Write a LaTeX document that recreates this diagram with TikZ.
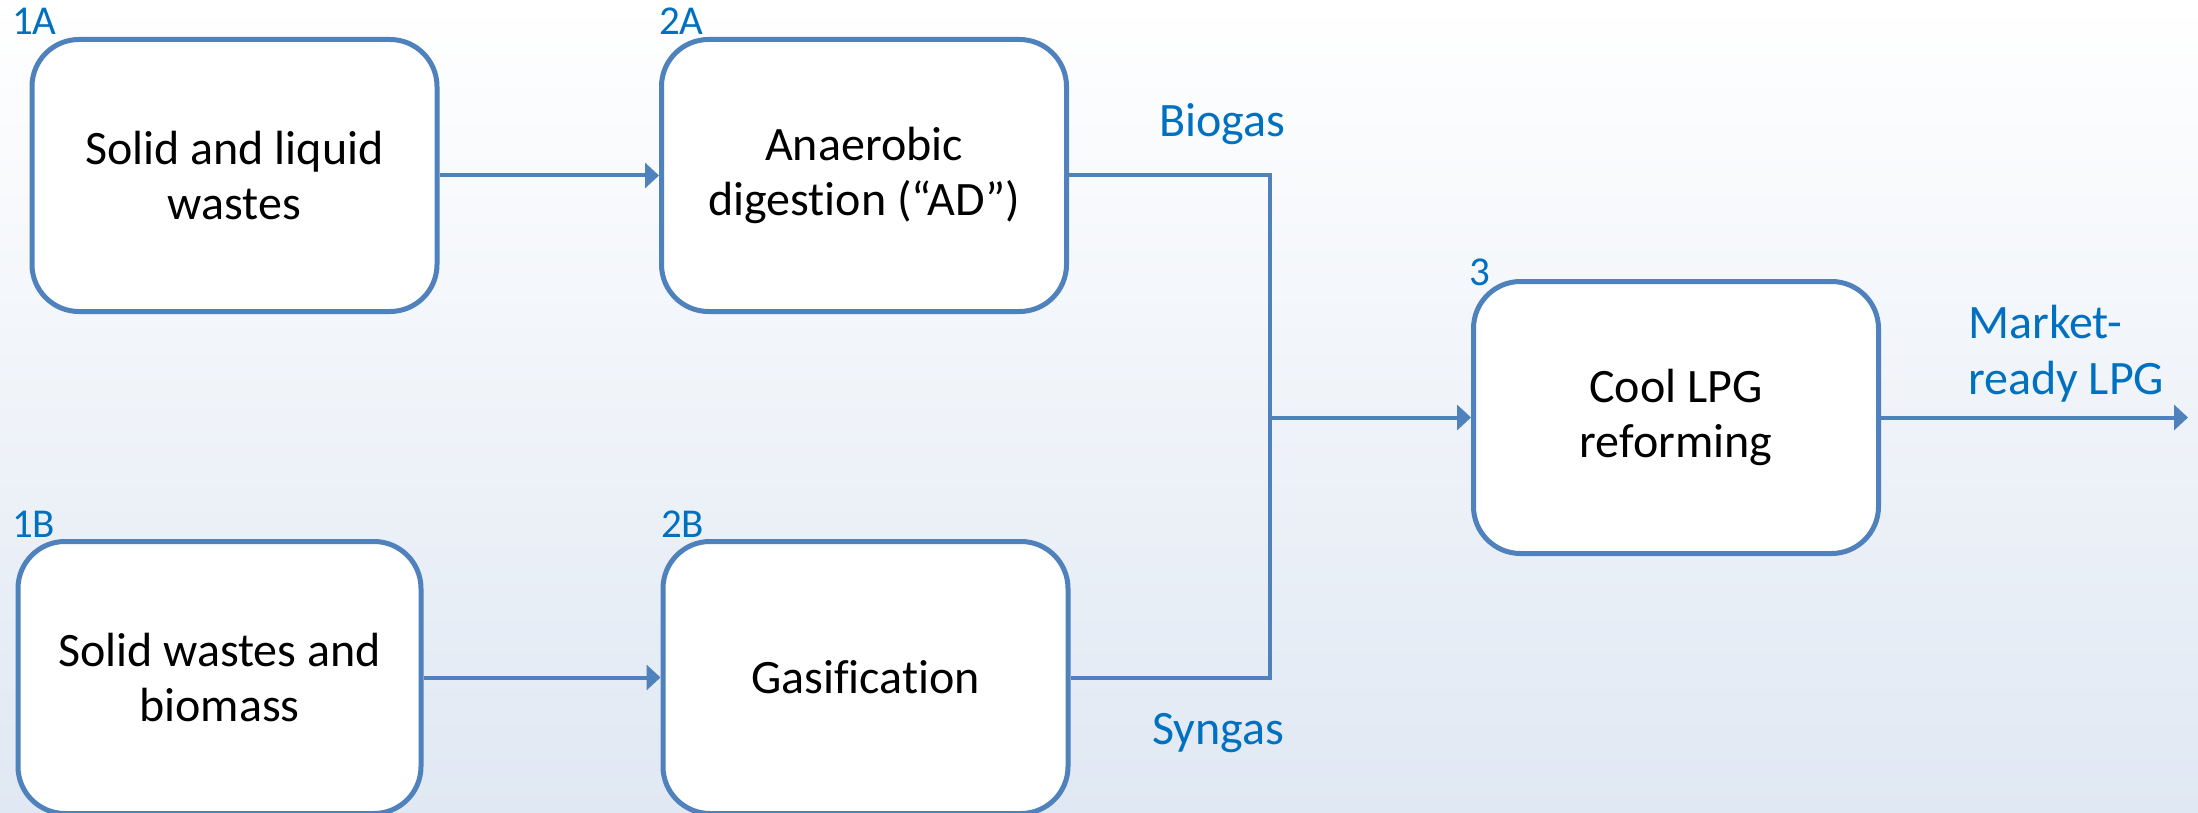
\documentclass[tikz,border=0pt]{standalone}
\usepackage{fontspec}
\setmainfont{Carlito}[Ligatures={NoCommon}]
\usetikzlibrary{arrows.meta}
\definecolor{boxblue}{HTML}{4F81BD}
\definecolor{labblue}{HTML}{0070C0}
\definecolor{bgb}{HTML}{E0E8F3}
\tikzset{
  procbox/.style={draw=boxblue, line width=5pt, fill=white, rounded corners=47pt,
    minimum width=405pt, minimum height=272pt, align=center, inner sep=0pt,
    font=\fontsize{48}{55}\selectfont},
  conn/.style={draw=boxblue, line width=4pt},
  arr/.style={conn, -{Triangle[length=14pt,width=25pt]}},
  numlab/.style={text=labblue, inner sep=0pt, anchor=base west, font=\fontsize{41}{48}\selectfont},
  flowlab/.style={text=labblue, inner sep=0pt, font=\fontsize{48}{56}\selectfont}
}
\begin{document}
\begin{tikzpicture}[x=1pt,y=-1pt]
\useasboundingbox (0,0) rectangle (2198,813);
\shade[top color=white, bottom color=bgb] (0,0) rectangle (2198,813);

\node[procbox] (a1) at (234.5,175.5) {Solid and liquid\\wastes};
\node[procbox] (a2) at (864,175.5) {Anaerobic\\digestion (“AD”)};
\node[procbox, minimum width=403pt] (b1) at (219.5,677.5) {Solid wastes and\\biomass};
\node[procbox] (b2) at (865.5,677.5) {Gasification};
\node[procbox] (c3) at (1676,417.5) {Cool LPG\\reforming};

\node[numlab] (l1a) at (12,35) {1A};
\node[numlab] (l2a) at (659,35) {2A};
\node[numlab] (l1b) at (12,537) {1B};
\node[numlab] (l2b) at (661,537) {2B};
\node[numlab] (l3) at (1469,285) {3};

\node[flowlab, anchor=base] (bio) at (1222,137) {Biogas};
\node[flowlab, anchor=base] (syn) at (1218,744) {Syngas};
\node[flowlab, anchor=west, align=left] (mkt) at (1968,354) {Market-\\ready LPG};

\coordinate (j1) at (1270,175.5);
\coordinate (j2) at (1270,677.5);
\coordinate (jm) at (1270,417.5);
\coordinate (out) at (2188,417.5);

\draw[arr] (a1) -- (a2);
\draw[arr] (b1) -- (b2);
\draw[conn] (a2.east) -- (j1) -- (j2) -- (b2.east);
\draw[arr] (jm) -- (c3);
\draw[arr] (c3) -- (out);
\end{tikzpicture}
\end{document}
